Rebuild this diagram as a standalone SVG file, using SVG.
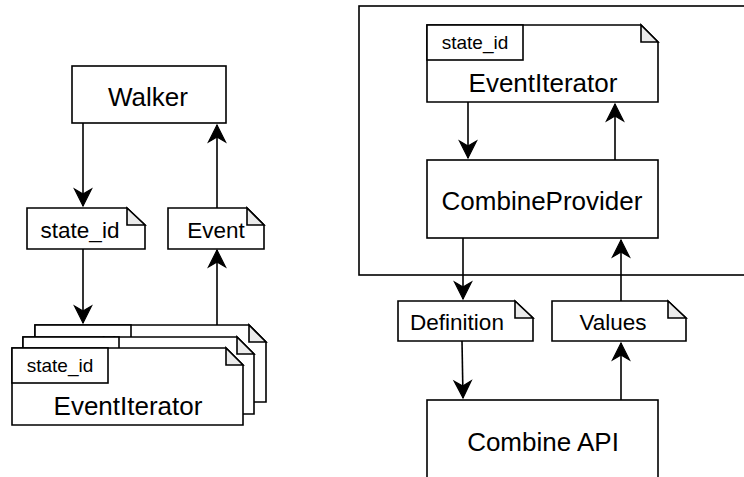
<svg xmlns="http://www.w3.org/2000/svg" width="744" height="477" viewBox="0 0 744 477">
  <style>
    .box { fill: #ffffff; stroke: #000000; stroke-width: 1.6; }
    .fold { fill: #ebebeb; stroke: #000000; stroke-width: 1.6; stroke-linejoin: miter; }
    .edge { fill: none; stroke: #000000; stroke-width: 1.6; }
    text { font-family: "Liberation Sans", Arial, Helvetica, sans-serif; fill: #000000; text-anchor: middle; }
    .big { font-size: 26px; }
    .mid { font-size: 22.5px; }
    .small { font-size: 19px; }
  </style>
  <defs>
    <marker id="arrow" markerUnits="userSpaceOnUse" markerWidth="20" markerHeight="20" refX="17" refY="9" orient="auto" overflow="visible">
      <path d="M17,9 L0,0.5 L5,9 L0,17.5 Z" fill="#000000" stroke="#000000" stroke-width="1.2" stroke-linejoin="miter"/>
    </marker>
    <!-- note-shaped card: 231 x 77 with 17px folded corner and a tab label -->
    <g id="card">
      <path class="box" d="M0,0 H214 L231,17 V77 H0 Z"/>
      <path class="fold" d="M214,0 V17 H231 Z"/>
      <rect class="box" x="0" y="0" width="96" height="35"/>
      <text class="small" x="48" y="24">state_id</text>
      <text class="big" x="116" y="67">EventIterator</text>
    </g>
  </defs>

  <!-- container around the provider -->
  <g id="provider-frame">
    <rect class="box" x="359" y="6" width="400" height="269"/>
  </g>

  <g id="walker">
    <rect class="box" x="72" y="66" width="154" height="57"/>
    <text class="big" x="148" y="106">Walker</text>
  </g>

  <g id="note-state-id">
    <path class="box" d="M27,208 H127 L145,225 V249 H27 Z"/>
    <path class="fold" d="M127,208 V225 H145 Z"/>
    <text class="mid" x="80" y="238">state_id</text>
  </g>

  <g id="note-event">
    <path class="box" d="M168,208 H247 L264,225 V249 H168 Z"/>
    <path class="fold" d="M247,208 V225 H264 Z"/>
    <text class="mid" x="216" y="238">Event</text>
  </g>

  <g id="iterator-stack">
    <use href="#card" x="35" y="325"/>
    <use href="#card" x="23" y="337"/>
    <use href="#card" x="12" y="348"/>
  </g>

  <g id="event-iterator">
    <use href="#card" x="427" y="25"/>
  </g>

  <g id="combine-provider">
    <rect class="box" x="427" y="160" width="231" height="78"/>
    <text class="big" x="542" y="210">CombineProvider</text>
  </g>

  <g id="note-definition">
    <path class="box" d="M398,301 H515 L533,318 V341 H398 Z"/>
    <path class="fold" d="M515,301 V318 H533 Z"/>
    <text class="mid" x="457" y="330">Definition</text>
  </g>

  <g id="note-values">
    <path class="box" d="M552,301 H668 L686,318 V341 H552 Z"/>
    <path class="fold" d="M668,301 V318 H686 Z"/>
    <text class="mid" x="613" y="330">Values</text>
  </g>

  <g id="combine-api">
    <rect class="box" x="427" y="400" width="231" height="100"/>
    <text class="big" x="543" y="451">Combine API</text>
  </g>

  <g id="connectors">
    <line class="edge" x1="83" y1="123" x2="83" y2="206" marker-end="url(#arrow)"/>
    <line class="edge" x1="83" y1="249" x2="83" y2="323" marker-end="url(#arrow)"/>
    <line class="edge" x1="217" y1="325" x2="217" y2="250" marker-end="url(#arrow)"/>
    <line class="edge" x1="217" y1="208" x2="217" y2="125" marker-end="url(#arrow)"/>
    <line class="edge" x1="468" y1="102" x2="468" y2="158" marker-end="url(#arrow)"/>
    <line class="edge" x1="615" y1="160" x2="615" y2="104" marker-end="url(#arrow)"/>
    <line class="edge" x1="463" y1="238" x2="463" y2="299" marker-end="url(#arrow)"/>
    <line class="edge" x1="621" y1="301" x2="621" y2="240" marker-end="url(#arrow)"/>
    <line class="edge" x1="462" y1="341" x2="463" y2="398" marker-end="url(#arrow)"/>
    <line class="edge" x1="621" y1="400" x2="621" y2="343" marker-end="url(#arrow)"/>
  </g>
</svg>
